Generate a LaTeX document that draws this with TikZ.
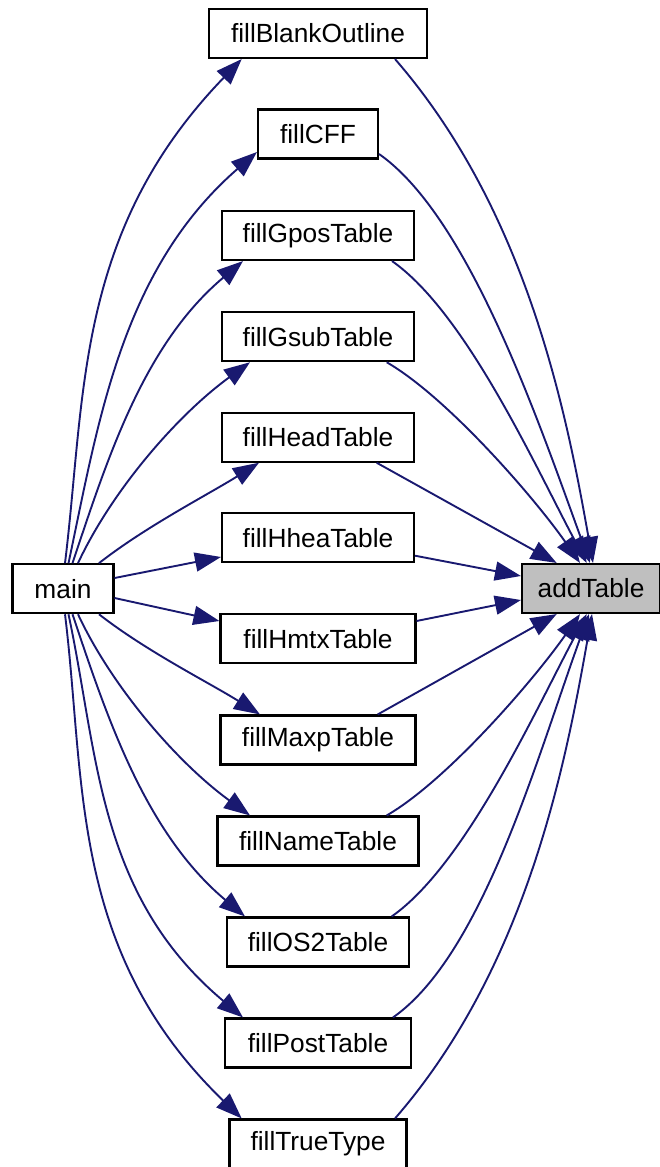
\documentclass[tikz,border=0pt]{standalone}
\usepackage{fontspec}
\setmainfont{Liberation Sans}
\usetikzlibrary{arrows.meta}
\definecolor{edgeblue}{HTML}{191970}
\definecolor{rootgray}{HTML}{BFBFBF}
\begin{document}
\begin{tikzpicture}[x=1pt,y=1pt,
  box/.style={draw=black, line width=2.1pt, minimum height=49pt, inner sep=0pt,
              font=\fontsize{26.3}{31}\selectfont, fill=white},
  edge/.style={draw=edgeblue, line width=1.9pt, -{Triangle[length=26pt,width=19pt]}},
]
\useasboundingbox (0,0) rectangle (660,-1167);
% nodes
\node[box, minimum width=218pt] (blank) at (318,-33.5) {fillBlankOutline};
\node[box, minimum width=120pt] (cff) at (318,-134) {fillCFF};
\node[box, minimum width=192pt] (gpos) at (318,-235.5) {fillGposTable};
\node[box, minimum width=192pt] (gsub) at (318,-336.7) {fillGsubTable};
\node[box, minimum width=192pt] (head) at (318,-437.2) {fillHeadTable};
\node[box, minimum width=192pt] (hhea) at (318,-537.8) {fillHheaTable};
\node[box, minimum width=195pt] (hmtx) at (318,-638.8) {fillHmtxTable};
\node[box, minimum width=195pt] (maxp) at (318,-740) {fillMaxpTable};
\node[box, minimum width=201pt] (name) at (318,-841) {fillNameTable};
\node[box, minimum width=182pt] (os2) at (318,-942) {fillOS2Table};
\node[box, minimum width=186pt] (post) at (318,-1043) {fillPostTable};
\node[box, minimum width=177pt] (tt) at (318,-1144) {fillTrueType};
\node[box, minimum width=101pt] (main) at (63,-588.7) {main};
\node[box, minimum width=138pt, fill=rootgray] (add) at (591,-588.5) {addTable};
% main -> fill*
\draw[edge] ([xshift=2pt]main.north) .. controls +(83:170) and +(226:240) .. ([xshift=-76.3pt]blank.south);
\draw[edge] ([xshift=5.5pt]main.north) .. controls +(78:144) and +(221:180) .. ([yshift=-18pt]cff.west);
\draw[edge] ([xshift=9.5pt]main.north) .. controls +(71.5:110) and +(220:130) .. ([xshift=-75pt]gpos.south);
\draw[edge] ([xshift=15pt]main.north) .. controls +(65:80) and +(216:90) .. ([xshift=-68pt]gsub.south);
\draw[edge] ([xshift=36pt]main.north) .. controls +(38:60) and +(212:60) .. ([xshift=-59pt]head.south);
\draw[edge] ([yshift=10.7pt]main.east) -- ([yshift=-19.2pt]hhea.west);
\draw[edge] ([yshift=-9.3pt]main.east) -- ([yshift=17.8pt]hmtx.west);
\draw[edge] ([xshift=36pt]main.south) .. controls +(-38:60) and +(148:60) .. ([xshift=-58pt]maxp.north);
\draw[edge] ([xshift=15pt]main.south) .. controls +(-65:80) and +(144:90) .. ([xshift=-68pt]name.north);
\draw[edge] ([xshift=9.5pt]main.south) .. controls +(-71.5:110) and +(140:130) .. ([xshift=-73pt]os2.north);
\draw[edge] ([xshift=5.5pt]main.south) .. controls +(-78:144) and +(140:190) .. ([xshift=-75pt]post.north);
\draw[edge] ([xshift=2pt]main.south) .. controls +(-83:170) and +(136:240) .. ([xshift=-76.3pt]tt.north);
% fill* -> addTable
\draw[edge] ([xshift=77pt]blank.south) .. controls +(-49:200) and +(100:155) .. ([xshift=2pt]add.north);
\draw[edge] ([yshift=-20pt]cff.east) .. controls +(-35:110) and +(110:150) .. ([xshift=-1pt]add.north);
\draw[edge] ([xshift=74pt]gpos.south) .. controls +(-35:90) and +(118:110) .. ([xshift=-4.3pt]add.north);
\draw[edge] ([xshift=68.7pt]gsub.south) .. controls +(-30:70) and +(125:80) .. ([xshift=-11pt]add.north);
\draw[edge] ([xshift=58.7pt]head.south) -- ([xshift=-34.3pt]add.north);
\draw[edge] ([yshift=-17.9pt]hhea.east) -- ([yshift=12.5pt]add.west);
\draw[edge] ([yshift=17.8pt]hmtx.east) -- ([yshift=-11.5pt]add.west);
\draw[edge] ([xshift=59.7pt]maxp.north) -- ([xshift=-34.3pt]add.south);
\draw[edge] ([xshift=68.7pt]name.north) .. controls +(30:70) and +(-125:80) .. ([xshift=-11pt]add.south);
\draw[edge] ([xshift=73.7pt]os2.north) .. controls +(35:90) and +(-118:110) .. ([xshift=-4.3pt]add.south);
\draw[edge] ([xshift=75pt]post.north) .. controls +(35:110) and +(-110:150) .. ([xshift=-2pt]add.south);
\draw[edge] ([xshift=77pt]tt.north) .. controls +(49:200) and +(-100:155) .. ([xshift=1pt]add.south);
\end{tikzpicture}
\end{document}
